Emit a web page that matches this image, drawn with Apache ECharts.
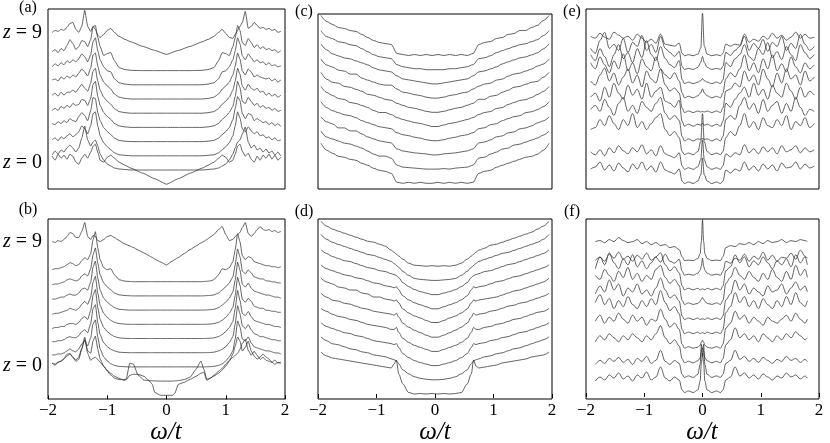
<!DOCTYPE html>
<html><head><meta charset="utf-8">
<script src="https://cdn.jsdelivr.net/npm/echarts@6/dist/echarts.min.js"></script>
<style>html,body{margin:0;padding:0;background:#fff}#c{width:830px;height:443px}</style>
</head><body><div id="c"></div>
<script>
// ---- x grids (omega/t) ----
const xA = [-1.93,-1.88,-1.83,-1.78,-1.73,-1.68,-1.63,-1.58,-1.53,-1.48,-1.43,-1.38,-1.33,-1.28,-1.24,-1.20,-1.16,-1.12,-1.06,-1.00,-0.94,-0.88,-0.80,-0.70,-0.60,-0.40,-0.20,0,0.20,0.40,0.60,0.70,0.80,0.88,0.94,1.00,1.06,1.12,1.16,1.20,1.24,1.28,1.33,1.38,1.43,1.48,1.53,1.58,1.63,1.68,1.73,1.78,1.83,1.88,1.93];
const xB = [-1.93,-1.88,-1.83,-1.78,-1.73,-1.68,-1.63,-1.58,-1.53,-1.48,-1.43,-1.38,-1.33,-1.28,-1.24,-1.20,-1.16,-1.12,-1.06,-1.00,-0.94,-0.88,-0.80,-0.72,-0.68,-0.62,-0.56,-0.48,-0.38,-0.30,-0.24,-0.20,-0.10,0,0.10,0.14,0.20,0.30,0.40,0.50,0.58,0.63,0.68,0.74,0.80,0.88,0.94,1.00,1.06,1.12,1.16,1.20,1.24,1.28,1.33,1.38,1.43,1.48,1.53,1.58,1.63,1.68,1.73,1.78,1.83,1.88,1.93];
const xC = [-1.95,-1.85,-1.75,-1.65,-1.55,-1.45,-1.35,-1.25,-1.15,-1.05,-0.95,-0.85,-0.75,-0.65,-0.55,-0.45,-0.35,-0.25,-0.15,-0.05,0.05,0.15,0.25,0.35,0.45,0.55,0.65,0.75,0.85,0.95,1.05,1.15,1.25,1.35,1.45,1.55,1.65,1.75,1.85,1.95];
const xD = [-1.95,-1.85,-1.75,-1.65,-1.55,-1.45,-1.35,-1.25,-1.15,-1.05,-0.95,-0.85,-0.75,-0.70,-0.66,-0.62,-0.55,-0.45,-0.35,-0.25,-0.15,-0.05,0.05,0.15,0.25,0.35,0.45,0.55,0.62,0.66,0.70,0.75,0.85,0.95,1.05,1.15,1.25,1.35,1.45,1.55,1.65,1.75,1.85,1.95];
const xE = [-1.92,-1.84,-1.76,-1.68,-1.60,-1.52,-1.44,-1.36,-1.28,-1.20,-1.12,-1.04,-0.96,-0.88,-0.80,-0.72,-0.64,-0.56,-0.48,-0.40,-0.35,-0.31,-0.24,-0.16,-0.08,-0.03,0,0.03,0.08,0.16,0.24,0.31,0.35,0.40,0.48,0.56,0.64,0.72,0.80,0.88,0.96,1.04,1.12,1.20,1.28,1.36,1.44,1.52,1.60,1.68,1.76,1.84,1.92];
const xF = [-1.84,-1.76,-1.68,-1.60,-1.52,-1.44,-1.36,-1.28,-1.20,-1.12,-1.04,-0.96,-0.88,-0.80,-0.72,-0.64,-0.56,-0.48,-0.40,-0.35,-0.31,-0.24,-0.16,-0.08,-0.04,-0.02,0,0.02,0.04,0.08,0.16,0.24,0.31,0.35,0.40,0.48,0.56,0.64,0.72,0.80,0.88,0.96,1.04,1.12,1.20,1.28,1.36,1.44,1.52,1.60,1.68,1.76,1.80];

// ---- panel (a): spectra for z = 0..9 (height above each curve's own baseline) ----
const a_z0 = [28,24,30,26,29,25,30,28,22,20,26,30,26,32,38,40,32,24,22,27,29,26,22,19,16, 11,5.5,0,5.5,11, 16,19,22,26,29,27,22,24,30,38,40,33,28,31,25,22,28,24,29,26,30,25,29,24,27];
const a_z1 = [15,19,16,20,18,22,25,22,18,22,32,44,30,24,28,30,24,16,10,6,4,2,1,0.5,0, 0,0,0,0,0, 0,0.5,1,2,4,6,10,16,22,28,30,36,43,28,22,25,20,22,18,21,17,19,15,18,14];
const a_z2 = [16,18,15,19,17,20,22,19,21,24,30,27,22,30,42,44,30,20,13,9,6,3,1,0.5,0, 0,0,0,0,0, 0,0.5,1,3,6,9,13,20,30,44,38,27,24,29,25,22,24,20,21,18,19,16,18,15,16];
const a_z3 = [18,17,20,18,21,19,23,21,20,25,29,26,21,31,44,43,29,21,14,10,7,3.5,1.2,0.4,0, 0,0,0,0,0, 0,0.4,1.2,3.5,7,10,14,22,33,45,41,28,23,28,27,21,23,21,19,20,17,19,16,18,15];
const a_z4 = [17,19,17,21,19,22,20,24,22,23,28,27,22,29,43,46,31,22,15,11,8,4,1.5,0.5,0, 0,0,0,0,0, 0,0.5,1.5,4,8,11,15,21,31,46,40,26,24,30,26,22,24,20,22,19,20,17,19,16,17];
const a_z5 = [18,20,17,21,18,21,21,23,21,25,29,25,22,30,42,45,32,23,16,12,9,4.5,1.6,0.5,0, 0,0,0,0,0, 0,0.5,1.6,4.5,9,12,16,23,32,45,39,27,23,29,25,23,25,21,22,18,20,17,19,16,18];
const a_z6 = [19,20,18,22,20,23,21,24,22,26,30,27,23,31,44,46,33,24,17,13,10,5,1.8,0.6,0, 0,0,0,0,0, 0,0.6,1.8,5,10,13,17,24,33,46,40,28,24,30,27,22,24,22,21,20,21,18,20,17,19];
const a_z7 = [18,21,19,22,20,24,22,25,23,26,31,28,23,30,43,47,34,25,18,14,13,6,2,0.7,0, 0,0,0,0,0, 0,0.7,2,6,13,14,18,25,34,47,41,29,25,31,27,23,25,22,23,20,22,19,20,18,19];
const a_z8 = [19,21,18,22,20,25,31,27,21,24,30,29,24,31,44,45,33,24,15,17,18,10,3,1,0.3, 0,0,0,0,0, 0.3,1,3,10,18,17,15,24,33,45,40,28,25,32,28,23,26,22,24,21,22,20,21,18,20];
const a_z9 = [24,26,25,27,26,29,33,34,27,24,30,46,30,25,30,27,21,19,22,26,28,24,20,17,14.5, 10,6,2,6,10, 14.5,17,20,24,27,23,19,18,22,26,30,34,45,28,30,34,31,28,29,27,28,26,27,24,25];

// ---- panel (b) ----
const b_z0 = [32,30,33,34,37,41,42,38,34,36,46,56,42,35,37,38,36,33,29,25,22,19,17, 15,15.5,20,21,21,19,15,11,3,0,0,0,2,11,13,16,19,22,23,15,17, 20,24,27,31,35,38,40,42,46,52,56,45,40,44,40,36,38,35,34,33,31,33,32];
const b_z1 = [18,17,19,20,22,25,27,24,21,24,33,44,30,28,40,45,32,22,15,10,6,3,1.5, 1.5,2,18,17,6,1,0.5,0.3,0.2,0,0,0,0.2,0.5,1.5,4,12,20,12,2,3, 5,8,11,15,20,27,35,44,40,30,34,40,30,25,22,24,27,24,22,19,21,18,19];
const b_z2 = [12,12,13,13,14,16,18,16,15,18,23,26,21,29,43,47,30,18,10,6,3,1.5,0.5, 0.2,0.1,0,0,0,0,0,0,0,0,0,0,0,0,0,0,0,0,0,0.1,0.2, 0.5,1.5,3,6,10,16,28,46,40,28,26,30,24,20,19,18,17,16,16,15,14,14,13];
const b_z3 = [11,11,12,12,13,15,16,15,15,17,21,23,20,29,44,48,30,18,10,6,3.5,1.8,0.5, 0.2,0.1,0,0,0,0,0,0,0,0,0,0,0,0,0,0,0,0,0,0.1,0.2, 0.5,1.8,3.5,6,10,16,29,47,39,27,24,28,23,19,18,16,16,15,14,13,13,12,12];
const b_z4 = [10,11,11,12,12,14,15,15,14,16,20,22,19,28,43,49,31,19,11,7,4,2,0.6, 0.3,0.1,0,0,0,0,0,0,0,0,0,0,0,0,0,0,0,0,0,0.1,0.3, 0.6,2,4,7,11,17,30,48,38,25,23,27,22,18,17,16,15,14,14,13,12,12,11];
const b_z5 = [10,11,11,12,13,14,16,15,14,16,20,23,20,27,42,48,31,19,11,7,4,2,0.7, 0.3,0.1,0,0,0,0,0,0,0,0,0,0,0,0,0,0,0,0,0,0.1,0.3, 0.7,2,4,7,11,17,29,47,39,25,22,26,23,18,17,16,16,14,14,13,13,12,12];
const b_z6 = [11,11,12,13,13,15,16,15,15,17,21,22,20,28,43,49,32,20,12,8,5,2.5,0.8, 0.4,0.2,0,0,0,0,0,0,0,0,0,0,0,0,0,0,0,0,0,0.2,0.4, 0.8,2.5,5,8,12,18,30,48,40,26,23,27,22,19,18,17,16,15,15,14,13,13,12];
const b_z7 = [11,12,12,13,14,16,17,16,15,16,20,22,20,27,41,48,33,21,13,9,6,3,1, 0.5,0.3,0.1,0,0,0,0,0,0,0,0,0,0,0,0,0,0,0,0.1,0.3,0.5, 1,3,6,9,13,19,31,47,39,25,22,26,23,19,18,17,17,15,15,14,14,13,13];
const b_z8 = [12,13,13,14,15,17,19,18,16,17,21,24,22,28,42,50,34,22,14,12,13,7,2, 0.8,0.4,0.2,0,0,0,0,0,0,0,0,0,0,0,0,0,0,0,0.2,0.4,0.8, 2,7,13,12,14,20,32,48,40,26,22,25,24,20,19,18,17,16,16,15,15,14,15];
const b_z9 = [26,25,27,26,28,31,35,34,30,30,36,45,31,28,32,31,27,26,28,31,32,30,27, 24,23,21.5,20,17.5,14.5,12,10,8.5,5.5,2.5,6.5,8,10,14,18,21.5,24.5,26,28,30.5, 33,38,41,33,27,28,31,33,35,40,45,34,31,34,38,41,38,37,38,36,37,35,36];

// ---- panel (c) ----
const c_z0 = [40,33,30,27,26,24,23,20,18,15,13,12,10, 1,0,1,0,1,0,0,1,0,1,0,1,0,1, 10,12,13,16,18,20,22,24,26,27,29,33,40];
const c_z1 = [38,32,30,28,26,25,23,21,18,15,13,13,11,4,2,1.5,1,0.5,0,0,0,0.5,0,1,1.5,2,4,11,12,15,17,20,21,24,25,27,29,31,34,38];
const c_z2 = [38,33,31,27,27,24,24,21,18,16,14,13,12,6,4,3,2,1.5,1,0,0,1,1.5,2,3,4,6,12,13,15,18,19,22,23,26,27,29,32,34,38];
const c_z3 = [39,33,30,28,26,25,23,20,18,16,14,13,12,8,6,5,3.5,2.5,1,0,0,1,2.5,3.5,5,6,8,12,13,16,17,20,22,24,25,28,29,31,34,39];
const c_z4 = [40,34,31,28,27,24,23,21,19,16,14,14,12,9,7,5.5,4,3,1.5,0,0,1.5,3,4,5.5,7,9,12,14,15,18,19,22,24,26,27,29,32,35,40];
const c_z5 = [40,33,30,29,26,25,23,21,18,17,15,13,12,9,7,5,4,2.5,1,0,0,1,2.5,4,5,7,9,13,13,16,17,20,22,25,26,28,30,31,35,40];
const c_z6 = [39,33,31,28,27,24,24,20,18,16,14,13,13,9,6,5,3.5,2.5,1,0,0,1,2.5,3.5,5,6,9,12,14,15,18,19,22,24,25,27,29,32,34,39];
const c_z7 = [40,34,30,28,26,25,23,21,19,16,14,13,12,8,5,4,3,2,1,0,0,1,2,3,4,5,8,12,13,15,17,20,22,24,26,27,29,31,35,40];
const c_z8 = [39,33,31,28,27,25,24,21,18,15,13,12,11,5,3,2,1,1,0,0,0,0,1,1,2,3,5,11,12,14,17,19,21,23,25,26,28,30,34,39];
const c_z9 = [40,34,31,28,27,25,24,21,18,15,13,12,11, 2,1,0,1,0,1,0,1,0,1,0,1,0,2, 11,13,14,17,18,21,22,25,25,28,30,35,40];

// ---- panel (d) ----
const d_z0 = [42,38,36,35,34,33,32,31,30,29,28,27,26, 30,34,20, 10,1.5,0,0.5,0,0.5,0,0.5,0,0.5,1.5,10, 20,34,28, 26,27,28,29,31,32,33,34,35,37,38,39,42];
const d_z1 = [43,39,36,35,33,31,30,28,27,25,24,23,21, 20,19,16, 10,6,3,1.5,0.5,0,0,0.5,1.5,3,6,10, 16,19,20, 21,23,24,26,27,29,31,32,34,36,38,40,43];
const d_z2 = [43,39,37,35,33,32,30,29,27,25,24,23,22, 21,22,18, 12,8,5,3,1.5,0,0,1.5,3,5,8,12, 18,22,21, 22,23,25,26,28,29,31,33,34,36,38,40,43];
const d_z3 = [43,40,37,35,34,32,31,29,27,26,25,24,22, 22,24,19, 13,9,6,4,2,0,0,2,4,6,9,13, 19,24,22, 22,24,25,27,28,30,32,33,35,37,39,40,43];
const d_z4 = [44,40,37,36,34,33,31,29,28,26,25,24,23, 22,24,20, 14,10,7,4.5,2,0,0,2,4.5,7,10,14, 20,24,22, 23,24,26,27,29,31,32,34,35,37,39,41,44];
const d_z5 = [45,41,39,36,35,33,33,30,29,26,26,24,23, 22,23,20, 14,10,7,5,2.5,0.5,0.5,2.5,5,7,10,14, 20,23,22, 23,24,25,26,28,30,32,33,35,37,39,41,45];
const d_z6 = [44,40,38,36,34,33,31,30,28,26,25,23,22, 21,22,19, 13,9,6,4,2,0,0,2,4,6,9,13, 19,22,21, 22,23,25,27,28,30,32,33,35,37,39,41,44];
const d_z7 = [45,41,38,36,34,33,31,29,27,26,24,23,21, 20,19,17, 12,8,5,3,1.5,0,0,1.5,3,5,8,12, 17,19,20, 21,23,24,26,28,30,31,33,35,37,39,41,45];
const d_z8 = [46,41,38,36,34,32,30,28,26,25,23,21,19, 17,15,13, 9,5,2,1,0.5,0,0,0.5,1,2,5,9, 13,15,17, 19,21,23,25,27,28,30,32,34,36,38,41,46];
const d_z9 = [45,40,37,35,33,31,29,27,25,24,22,20,16, 14,12,10, 7,3,1,0.5,0,0.5,0,0.5,0,1,3,7, 10,12,14, 16,18,21,22,24,26,28,30,32,34,37,40,45];

// ---- panel (e) ----
const e_z0 = [15,17,22,14,19,13,21,16,12,20,15,22,14,18,12,22,14,12,10,15,3, 0.5,2,0.5,3,9,26,9,3,0.5,2,0.5, 3,14,11,15,13,22,14,18,13,20,15,19,13,21,16,17,22,15,20,16,18];
const e_z1 = [18,15,20,14,22,17,24,19,16,22,18,25,16,20,14,24,16,14,12,17,4, 0.5,2,0.5,3,10,30,10,3,0.5,2,0.5, 4,16,13,17,15,25,17,21,16,23,18,22,16,24,18,20,24,17,22,18,20];
const e_z2 = [26,28,36,30,40,32,26,36,30,42,28,34,26,32,38,42,26,20,24,18,4, 1,2.5,1,4,14,42,14,4,1,2.5,1, 4,18,24,20,30,42,28,34,26,38,30,28,36,30,40,26,34,30,38,28,32];
const e_z3 = [32,36,30,42,34,26,38,44,30,36,28,40,34,30,38,44,28,22,26,21,5, 0.5,2.5,0.5,2.5,2,3,2,2.5,0.5,2.5,0.5, 5,22,26,22,36,44,32,38,28,42,30,36,40,28,38,30,44,34,26,32,30];
const e_z4 = [30,34,26,40,30,44,34,28,42,32,38,28,44,30,36,40,26,24,20,27,6, 1,3,1,3,2,4,2,3,1,3,1, 6,24,20,28,34,40,30,44,32,38,28,42,34,30,44,36,28,40,30,36,32];
const e_z5 = [32,28,38,45,32,40,28,36,44,30,38,26,42,34,30,44,28,22,25,20,5, 0.5,2,0.5,2,1,1.5,1,2,0.5,2,0.5, 5,22,24,30,26,42,32,38,28,44,34,26,40,30,44,34,38,28,42,32,36];
const e_z6 = [36,30,42,34,26,38,30,45,28,36,25,40,32,28,42,30,24,20,26,18,6, 1,2.5,1,3,6,10,6,3,1,2.5,1, 6,20,26,22,30,44,28,36,26,40,30,44,28,35,27,42,32,26,36,30,34];
const e_z7 = [30,24,36,28,18,30,40,26,32,22,36,27,44,30,24,38,26,20,17,24,5, 1,2.5,1,2.5,4,6,4,2.5,1,2.5,1, 5,22,18,26,30,40,28,24,36,30,42,27,33,25,38,30,24,40,32,26,30];
const e_z8 = [22,17,30,38,22,26,20,32,18,28,24,35,20,26,18,34,22,18,14,19,4, 1,2,1,3,8,14,8,3,1,2,1, 4,18,15,20,24,34,20,27,22,31,19,28,24,34,20,27,22,36,26,20,24];
const e_z9 = [20,18,23,19,17,24,21,18,20,16,22,18,14,17,13,22,12,11,10,13,3, 0.5,1.5,0.5,2,8,43,10,2,0.5,1.5,0.5, 3,12,10,12,11,22,14,17,15,20,17,23,18,21,16,19,24,18,22,18,19];

// ---- panel (f) ----
const f_z0 = [12,16,13,18,15,20,14,17,12,18,15,21,13,16,26,15,12,16,13,3, 0.5,2,0.5,3,12,30,40,30,12,3,0.5,2,0.5, 3,13,16,26,17,20,15,18,14,19,16,13,17,15,20,16,18,14,17,15];
const f_z1 = [14,18,15,20,17,21,16,19,14,20,17,22,15,18,28,17,14,18,15,4, 1,2.5,1,4,14,34,22,34,14,4,1,2.5,1, 4,15,18,28,19,22,17,20,16,21,18,15,19,17,22,18,20,16,19,17];
const f_z2 = [22,28,24,30,26,22,28,24,30,26,22,28,24,30,38,26,20,24,18,5, 1,2.5,1,3,6,12,16,12,6,3,1,2.5,1, 5,19,24,36,26,30,24,28,22,30,26,22,28,24,30,26,32,28,24,26];
const f_z3 = [28,34,26,32,28,36,30,26,34,28,32,24,30,28,40,30,22,26,20,5, 1,2.5,1,2,4,7,9,7,4,2,1,2.5,1, 5,21,26,38,30,34,26,32,28,24,32,28,26,30,34,28,36,30,26,30];
const f_z4 = [32,40,30,36,26,34,28,38,30,26,34,28,36,30,44,32,24,28,21,5, 1,2.5,1,2.5,1,1.5,2,1.5,1,2.5,1,2.5,1, 5,22,28,42,32,38,28,34,26,36,30,26,34,28,38,30,42,32,28,34];
const f_z5 = [26,34,28,40,30,36,24,32,28,36,26,30,24,32,42,30,22,25,19,4, 0.5,2,0.5,2,0.5,1,1,1,0.5,2,0.5,2,0.5, 4,20,26,40,30,36,26,32,28,24,34,28,30,36,26,32,38,30,34,28];
const f_z6 = [30,26,36,30,24,34,28,38,26,32,24,30,26,36,40,28,22,26,20,5, 1,2.5,1,2,4,6,8,6,4,2,1,2.5,1, 5,22,28,38,30,26,34,28,24,32,26,36,28,24,34,26,40,30,36,28];
const f_z7 = [22,34,26,38,28,22,32,26,36,24,30,22,28,34,38,26,20,24,18,5, 1,2.5,1,2.5,1,1.5,2,1.5,1,2.5,1,2.5,1, 5,20,24,36,28,34,24,30,26,34,28,22,30,26,32,24,36,28,34,26];
const f_z8 = [16,19,15,22,18,24,17,20,15,21,17,23,16,19,14,22,15,13,17,5, 1,2,1,3,6,10,18,10,6,3,1,2,1, 5,15,13,18,16,22,15,20,17,24,16,21,15,19,18,23,17,26,20,18];
const f_z9 = [20,21,19,22,20,24,21,19,20,22,18,20,17,19,16,17,14,15,12,5, 1,1.5,1,3,8,20,42,20,8,3,1,1.5,1, 5,14,16,15,18,17,19,17,20,18,21,19,20,22,19,21,20,22,21,20];

const panelLabels = ['(a)','(b)','(c)','(d)','(e)','(f)'];
const zLabels = ['9','0'];

// ---- layout / style ----
const panels = [
  {x:xA, curves:[a_z0,a_z1,a_z2,a_z3,a_z4,a_z5,a_z6,a_z7,a_z8,a_z9], grid:{left:48,top:9,width:237,height:180}, y:[-4.8,175.2], off:14.2, bottom:false, smooth:0.15},
  {x:xB, curves:[b_z0,b_z1,b_z2,b_z3,b_z4,b_z5,b_z6,b_z7,b_z8,b_z9], grid:{left:48,top:219,width:237,height:180}, y:[-3.7,176.3], off:14.2, bottom:true, smooth:0.15},
  {x:xC, curves:[c_z0,c_z1,c_z2,c_z3,c_z4,c_z5,c_z6,c_z7,c_z8,c_z9], grid:{left:318,top:14,width:234,height:175}, y:[-5.7,169.3], off:14.2, bottom:false, smooth:0.3},
  {x:xD, curves:[d_z0,d_z1,d_z2,d_z3,d_z4,d_z5,d_z6,d_z7,d_z8,d_z9], grid:{left:318,top:219,width:234,height:180}, y:[-5,175], off:14.2, bottom:true, smooth:0.3},
  {x:xE, curves:[e_z0,e_z1,e_z2,e_z3,e_z4,e_z5,e_z6,e_z7,e_z8,e_z9], grid:{left:586,top:9,width:233,height:180}, y:[-5,175], off:14.2, bottom:false, smooth:0.35},
  {x:xF, curves:[f_z0,f_z1,f_z2,f_z3,f_z4,f_z5,f_z6,f_z7,f_z8,f_z9], grid:{left:586,top:219,width:233,height:180}, y:[-6,174], off:14.6, bottom:true, smooth:0.35}
];
const FONT = 'Liberation Serif';
const grids = [], xAxes = [], yAxes = [], series = [];
panels.forEach((p, gi) => {
  grids.push(Object.assign({show:true, borderColor:'#000', borderWidth:1, backgroundColor:'transparent', containLabel:false}, p.grid));
  xAxes.push({gridIndex:gi, type:'value', min:-2, max:2, interval:1,
    axisLine:{show:false}, splitLine:{show:false},
    axisTick:{show:p.bottom, inside:false, length:4, lineStyle:{color:'#000', width:1}},
    axisLabel:{show:p.bottom, margin:3, color:'#000', fontSize:17, fontFamily:FONT,
      formatter: v => (v < 0 ? '\u2212' + (-v) : String(v))}});
  yAxes.push({gridIndex:gi, type:'value', min:p.y[0], max:p.y[1], show:false});
  p.curves.forEach((h, z) => {
    if (h.length !== p.x.length) throw new Error('length mismatch panel ' + gi + ' z=' + z);
    series.push({type:'line', xAxisIndex:gi, yAxisIndex:gi, symbol:'none', showSymbol:false, silent:true,
      animation:false, clip:true, smooth:p.smooth, smoothMonotone:'x', lineStyle:{width:0.75, color:'#2e2e2e'},
      data: p.x.map((x, i) => [x, h[i] + z * p.off])});
  });
});

function txt(x, y, text, size, align, italic) {
  return {type:'text', x:x, y:y, silent:true,
    style:{text:text, font:(italic ? 'italic ' : '') + size + 'px ' + FONT, fill:'#000', align:align, verticalAlign:'middle'}};
}
function zlab(x, y, n) {
  return {type:'text', x:x, y:y, silent:true,
    style:{text:'{i|z} {n|= ' + n + '}', font:'20px ' + FONT, fill:'#000', align:'right', verticalAlign:'middle',
      rich:{i:{fontStyle:'italic', fontSize:20, fontFamily:FONT, fill:'#000'}, n:{fontSize:20, fontFamily:FONT, fill:'#000'}}}};
}
const graphics = [
  txt(28, 8, panelLabels[0], 16, 'center'),
  txt(28, 210, panelLabels[1], 16, 'center'),
  txt(304, 12, panelLabels[2], 16, 'center'),
  txt(304, 212, panelLabels[3], 16, 'center'),
  txt(572, 12, panelLabels[4], 16, 'center'),
  txt(572, 212, panelLabels[5], 16, 'center'),
  zlab(42, 33, zLabels[0]), zlab(42, 163, zLabels[1]), zlab(42, 242, zLabels[0]), zlab(42, 366, zLabels[1]),
  txt(166, 432, '\u03c9/t', 25, 'center', true),
  txt(435, 432, '\u03c9/t', 25, 'center', true),
  txt(702, 432, '\u03c9/t', 25, 'center', true)
];

const chart = echarts.init(document.getElementById('c'), null, {renderer:'canvas', width:830, height:443});
chart.setOption({animation:false, backgroundColor:'#fff', grid:grids, xAxis:xAxes, yAxis:yAxes, series:series, graphic:graphics});
</script></body></html>
